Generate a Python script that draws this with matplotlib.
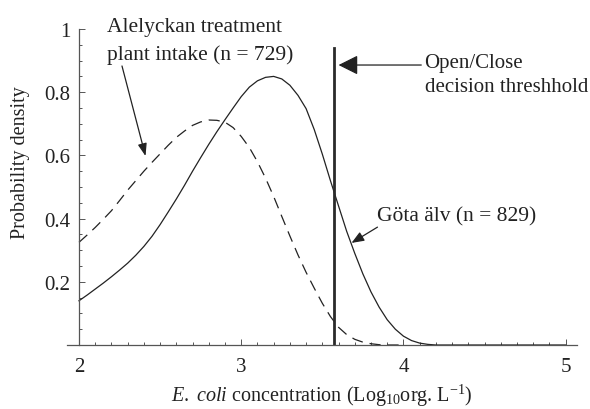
import numpy as np
import matplotlib
matplotlib.use("Agg")
import matplotlib.pyplot as plt
from matplotlib.ticker import MultipleLocator

# values
x_gota = [2.0, 2.05, 2.1, 2.15, 2.2, 2.25, 2.3, 2.35, 2.4, 2.45, 2.5, 2.55, 2.6,
          2.65, 2.7, 2.75, 2.8, 2.85, 2.9, 2.95, 3.0, 3.05, 3.1, 3.15, 3.2,
          3.25, 3.3, 3.35, 3.4, 3.45, 3.5, 3.55, 3.6, 3.65, 3.7, 3.75, 3.8,
          3.85, 3.9, 3.95, 4.0, 4.05, 4.1, 4.15, 4.2, 4.3, 4.5, 5.0]
gota = [0.14, 0.158, 0.177, 0.196, 0.216, 0.237, 0.259, 0.284, 0.312, 0.344,
        0.381, 0.421, 0.462, 0.505, 0.55, 0.593, 0.635, 0.675, 0.713, 0.75,
        0.786, 0.816, 0.836, 0.847, 0.85, 0.842, 0.822, 0.79, 0.748, 0.682,
        0.604, 0.52, 0.44, 0.36, 0.29, 0.225, 0.168, 0.12, 0.08, 0.05, 0.028,
        0.014, 0.006, 0.002, 0.0, 0.0, 0.0, 0.0]

x_alel = [2.0, 2.05, 2.1, 2.15, 2.2, 2.25, 2.3, 2.35, 2.4, 2.45, 2.5, 2.55, 2.6,
          2.65, 2.7, 2.75, 2.8, 2.85, 2.9, 2.95, 3.0, 3.05, 3.1, 3.15, 3.2,
          3.25, 3.3, 3.35, 3.4, 3.45, 3.5, 3.55, 3.6, 3.65, 3.7, 3.75, 3.8,
          3.85, 3.9, 4.0]
alelyckan = [0.325, 0.348, 0.372, 0.398, 0.425, 0.457, 0.49, 0.52, 0.55, 0.578,
             0.605, 0.632, 0.657, 0.677, 0.695, 0.706, 0.712, 0.711, 0.705,
             0.688, 0.66, 0.625, 0.58, 0.528, 0.47, 0.407, 0.345, 0.285, 0.23,
             0.18, 0.132, 0.09, 0.056, 0.033, 0.018, 0.009, 0.004, 0.001, 0.0,
             0.0]

threshold = 3.57
x_ticks = [2, 3, 4, 5]
y_ticks = [0.2, 0.4, 0.6, 0.8, 1.0]
y_ticklabels = ["0.2", "0.4", "0.6", "0.8", "1"]

plt.rcParams["font.family"] = "Liberation Serif"
plt.rcParams["mathtext.fontset"] = "custom"
plt.rcParams["mathtext.rm"] = "Liberation Serif"
plt.rcParams["mathtext.it"] = "Liberation Serif:italic"
plt.rcParams["lines.scale_dashes"] = False

fig = plt.figure(figsize=(5.9, 4.1), dpi=100)
ax = fig.add_axes([67 / 590, 64 / 410, 510 / 590, 316 / 410])

ink = "#222222"
ax.plot(x_gota, gota, color=ink, lw=0.9, clip_on=False)
ax.plot(x_alel, alelyckan, color=ink, lw=0.9, dashes=(8, 5), clip_on=False)
ax.plot([threshold, threshold], [0, 0.94], color="#2a2a2a", lw=2.0)

ax.set_xlim(1.926, 5.07)
ax.set_ylim(0, 1.0)

for s in ["top", "right"]:
    ax.spines[s].set_visible(False)
ax.spines["left"].set_position(("data", 2))
ax.spines["left"].set_bounds(0, 1)
for s in ["left", "bottom"]:
    ax.spines[s].set_color("#555555")
    ax.spines[s].set_linewidth(0.9)

ax.set_xticks(x_ticks)
ax.set_yticks(y_ticks)
ax.set_yticklabels(y_ticklabels)
ax.xaxis.set_minor_locator(MultipleLocator(0.1))
ax.yaxis.set_minor_locator(MultipleLocator(0.05))
ax.tick_params(which="both", direction="in", color="#555555", width=0.7,
               labelsize=15, labelcolor=ink)
ax.tick_params(which="major", length=4)
ax.tick_params(which="minor", length=2)
ax.tick_params(axis="x", pad=9)
ax.tick_params(axis="y", pad=6)

# annotations, one text per line so the baselines sit where the reference has them
ax.text(2.172, 0.994, "Alelyckan treatment", fontsize=15.5, color=ink, va="baseline")
ax.text(2.172, 0.905, "plant intake (n = 729)", fontsize=15.5, color=ink, va="baseline")
ax.annotate("", xy=(2.41, 0.598), xytext=(2.265, 0.883),
            arrowprops=dict(arrowstyle="-|>,head_length=0.5,head_width=0.18",
                            color=ink, lw=0.9, mutation_scale=15,
                            shrinkA=0, shrinkB=0))

ax.text(4.13, 0.880, "Open/Close", fontsize=15, color=ink, va="baseline")
ax.text(4.13, 0.804, "decision threshhold", fontsize=15, color=ink, va="baseline")
ax.annotate("", xy=(3.6, 0.886), xytext=(4.11, 0.886),
            arrowprops=dict(arrowstyle="-|>,head_length=0.6,head_width=0.3",
                            color=ink, lw=0.9, mutation_scale=20,
                            shrinkA=0, shrinkB=0))

ax.text(3.84, 0.393, "Göta älv (n = 829)", fontsize=15.5, color=ink, va="baseline")
ax.annotate("", xy=(3.68, 0.323), xytext=(3.84, 0.373),
            arrowprops=dict(arrowstyle="-|>,head_length=0.5,head_width=0.2",
                            color=ink, lw=0.9, mutation_scale=15,
                            shrinkA=0, shrinkB=0))

fig.text(21 / 590, 1 - 163 / 410, "Probability density", rotation=90,
         fontsize=14.5, color=ink, ha="center", va="center")
fig.text(322 / 590, 1 - 402 / 410,
         r"$\mathit{E.\ coli}$ concentration (Log$_{10}$org. L$^{-1}$)",
         fontsize=14.5, color=ink, ha="center", va="baseline")

fig.savefig("out.png", dpi=100)
